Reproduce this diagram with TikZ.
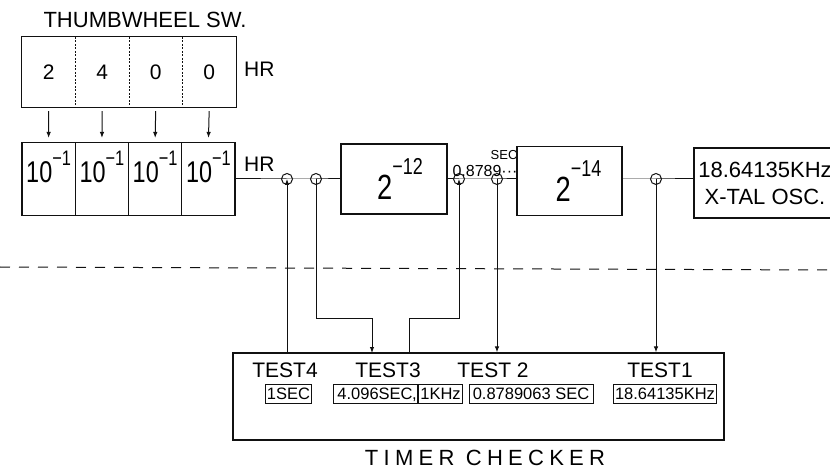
\documentclass[tikz,border=0pt]{standalone}
\usepackage{fontspec}
\usepackage{graphicx}
\setmainfont{Liberation Sans}
\newfontfamily\spacedfont{Liberation Sans}[LetterSpace=24]
\usetikzlibrary{arrows.meta,positioning}
\definecolor{ink}{HTML}{111111}
\newcommand{\fsz}[1]{\fontsize{#1}{#1}\selectfont}
\newcommand{\powr}[5]{\scalebox{0.78}[1]{\fsz{#3}#1\raisebox{#5}{\fsz{#4}#2}}}
\tikzset{
  wire/.style={draw=ink,line width=1pt},
  blk/.style={draw=ink,line width=1.1pt,inner sep=0pt,align=center},
  digit/.style={minimum width=53.5pt,minimum height=70pt,inner sep=0pt,font=\fsz{21}},
  divbox/.style={blk,minimum width=53.25pt,minimum height=73pt,text depth=24pt},
  tap/.style={circle,draw=ink,line width=1pt,minimum size=11pt,inner sep=0pt},
  ar/.style={-{Latex[length=6pt,width=4.5pt]},draw=ink,line width=1pt},
  lbl/.style={inner sep=0pt,font=\fsz{21}},
  val/.style={draw=ink,line width=0.9pt,font=\fsz{16.5},inner xsep=1.5pt,inner ysep=1.5pt,minimum height=19pt},
}

\begin{document}
\begin{tikzpicture}[x=1pt,y=-1pt]
  \useasboundingbox (0,0) rectangle (830,470);

  \node[lbl,font=\fsz{22}] (title) at (145,20) {THUMBWHEEL SW.};
  \foreach \v/\cx [count=\i] in {2/48.75,4/102.25,0/155.75,0/209.25}
    \node[digit] (d\i) at (\cx,72) {\v};
  \draw[blk] (d1.north west) rectangle (d4.south east);
  \foreach \i in {1,2,3}
    \draw[wire,line width=0.7pt,dash pattern=on 2pt off 1.5pt] (d\i.north east) -- (d\i.south east);
  \node[lbl,anchor=west] (hrtop) at (244,69) {HR};

  \foreach \cx [count=\i] in {48.6,101.9,155.1,208.4}{
    \node[divbox] (p\i) at (\cx,179) {\powr{10}{−1}{30}{21}{17pt}};
    \draw[ar,shorten <=4pt,shorten >=4pt] (d\i.south) -- (p\i.north);
  }
  \node[lbl,anchor=west] (hrlow) at (244,164) {HR};

  \node[tap] (t1) at (287,179) {};
  \node[tap] (t2) at (316,179) {};
  \node[blk,minimum width=106pt,minimum height=70pt] (d12) at (394,179) {\hspace*{12pt}\powr{2}{−12}{35}{23}{25pt}};
  \node[tap] (t3) at (459,179) {};
  \node[tap] (t4) at (497,179) {};
  \node[lbl,font=\fsz{16}] (per) at (485,171) {0.8789···};
  \node[lbl,font=\fsz{13},anchor=south east] (sec) at ([yshift=5pt]per.north east) {SEC};
  \node[blk,minimum width=105pt,minimum height=69pt] (d14) at (569.5,181) {\hspace*{18pt}\powr{2}{−14}{35}{23}{25pt}};
  \node[tap] (t5) at (656,179) {};
  \node[blk,minimum width=142pt,minimum height=70pt,font=\fontsize{22}{27}\selectfont] (osc) at (765,183) {18.64135KHz\\X-TAL OSC.};

  \draw[wire] (p4.east) -- (t1.center) -- (t2.center) -- (t2.center -| d12.west);
  \draw[wire] (t3.center -| d12.east) -- (t3.center) -- (t4.center) -- (t4.center -| d14.west);
  \draw[wire] (t5.center -| d14.east) -- (t5.center) -- (t5.center -| osc.west);

  \coordinate (cutl) at (0,267);
  \coordinate (cutr) at (830,270);
  \draw[wire,dash pattern=on 10pt off 9pt] (cutl) -- (cutr);

  \node[blk,minimum width=491pt,minimum height=87pt] (chk) at (478.5,396.5) {};
  \node[lbl] (tst4) at (285,370) {TEST4};
  \node[lbl] (tst3) at (388,370) {TEST3};
  \node[lbl] (tst2) at (493,370) {TEST 2};
  \node[lbl] (tst1) at (660,370) {TEST1};
  \node[val,minimum width=43pt] (v4) at (288.5,394) {1SEC};
  \node[val,minimum width=84pt] (v3a) at (375,394) {4.096SEC};
  \node[val,minimum width=38pt,anchor=west] (v3b) at ([xshift=1pt]v3a.east) {1KHz};
  \node[lbl,font=\fsz{16.5},anchor=base east] (comma) at ([xshift=-0.5pt]v3a.base east) {,};
  \node[val,minimum width=124pt] (v2) at (531,394) {0.8789063 SEC};
  \node[val,minimum width=96pt] (v1) at (665,394) {18.64135KHz};
  \node[lbl,font=\spacedfont\fsz{22}] (name) at (485,458) {TIMER CHECKER};

  \coordinate (bus) at (0,319);
  \coordinate (in3) at (372,353);
  \coordinate (out3) at (409,353);
  \draw[ar] (t1.center |- chk.north) -- (t1.center);
  \draw[ar] (t2.center) -- (t2.center |- bus) -| (in3);
  \draw[ar] (out3) |- (t3.center |- bus) -- (t3.center);
  \draw[ar] (t4.center) -- (t4.center |- chk.north);
  \draw[ar] (t5.center) -- (t5.center |- chk.north);
\end{tikzpicture}
\end{document}
